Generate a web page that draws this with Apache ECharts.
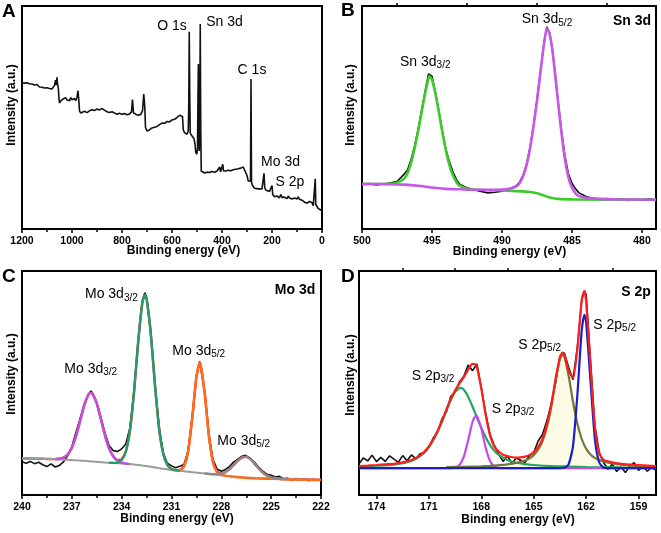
<!DOCTYPE html>
<html><head><meta charset="utf-8">
<script src="https://cdn.jsdelivr.net/npm/echarts@6/dist/echarts.min.js"></script>
<style>html,body{margin:0;padding:0;background:#fff}#c{width:661px;height:533px}</style>
</head><body><div id="c"></div>
<script>
// ---------- Panel A : survey spectrum [binding energy, intensity] ----------
const surveyData = [[1200,65.5],[1195,66.2],[1190,65.4],[1185,66.0],[1180,65.6],[1175,65.9],[1170,65.1],[1165,65.7],[1160,65.0],[1155,65.4],[1150,64.6],[1145,65.3],[1140,64.8],[1135,64.4],[1130,63.7],[1125,64.2],[1120,63.6],[1115,63.9],[1110,63.2],[1105,63.8],[1100,63.3],[1095,63.9],[1090,63.0],[1085,63.4],[1080,62.8],[1075,63.5],[1070,64.4],[1066,66.8],[1063,64.5],[1060,68.0],[1058,65.0],[1055,63.5],[1052,58.5],[1050,56.5],[1045,57.5],[1040,57.0],[1035,58.4],[1030,57.6],[1025,58.8],[1020,57.9],[1015,58.6],[1010,57.5],[1005,58.9],[1000,58.0],[995,57.2],[990,58.5],[985,57.6],[980,59.0],[976,62.0],[973,58.0],[970,53.0],[965,52.0],[960,52.4],[950,52.8],[940,52.2],[930,53.0],[920,53.5],[910,53.1],[900,53.8],[890,53.4],[880,54.0],[870,53.3],[860,52.6],[850,52.2],[840,52.6],[830,52.0],[820,51.5],[810,51.9],[800,51.4],[790,51.8],[780,51.2],[770,51.6],[762,52.5],[758,58.0],[754,52.0],[745,51.5],[735,51.0],[725,51.4],[718,53.0],[713,60.5],[709,55.0],[706,45.5],[700,44.0],[690,44.4],[680,45.3],[670,45.6],[660,46.0],[650,46.8],[640,47.5],[630,47.4],[620,48.2],[610,48.0],[600,48.9],[590,49.2],[580,50.0],[570,51.0],[562,51.3],[558,50.5],[555,44.5],[550,43.2],[545,43.8],[540,42.5],[535,44.0],[533,55.0],[531,88.5],[529,60.0],[527,43.0],[522,42.0],[517,41.2],[512,40.5],[508,38.0],[505,34.5],[501,33.5],[498,36.0],[496,60.0],[494.5,74.0],[493,50.0],[491,35.0],[489,45.0],[487,91.9],[485,45.0],[483,26.0],[480,25.2],[470,25.1],[460,25.5],[450,25.3],[440,25.8],[430,25.4],[420,26.0],[412,26.2],[409,27.8],[406,25.6],[400,26.2],[397,29.0],[394,26.0],[385,26.0],[375,26.3],[365,26.1],[355,26.6],[345,26.8],[335,27.0],[325,27.3],[315,27.8],[308,27.5],[300,24.0],[295,21.5],[290,21.0],[286,21.5],[284,67.3],[282,21.0],[278,19.5],[270,18.3],[262,18.8],[255,18.0],[248,18.6],[240,18.0],[235,18.5],[232,25.0],[229,18.5],[225,17.5],[218,17.8],[210,16.8],[204,16.5],[200,19.5],[197,15.5],[190,14.5],[180,14.8],[170,14.0],[165,15.5],[160,14.2],[150,14.3],[140,13.6],[135,14.8],[130,13.9],[120,13.5],[110,13.9],[100,13.5],[95,14.4],[90,13.3],[80,12.9],[70,12.0],[60,11.6],[50,12.4],[40,11.8],[35,10.5],[30,10.0],[27,22.5],[25,11.0],[20,10.5],[15,9.2],[10,9.5],[5,8.5],[0,8.2]];

// ---------- Panel B : Sn 3d ----------
const snTicks = [500,495,490,485,480];
const snMinor = [497.5,492.5,487.5,482.5];
const snRaw = [[500,20.0],[499.5,20.4],[499,19.7],[498.5,20.2],[498,20.6],[497.5,21.3],[497,24.5],[496.75,26.5],[496.5,31.0],[496.25,37.0],[496,44.5],[495.75,53.0],[495.5,61.5],[495.25,69.5],[495,68.5],[494.75,61.0],[494.5,52.5],[494.25,43.5],[494,35.5],[493.75,30.0],[493.5,25.5],[493.25,22.0],[493,20.0],[492.5,18.5],[492,17.6],[491.5,16.8],[491,16.2],[490.5,16.5],[490,17.0],[489.5,17.8],[489,19.3],[488.75,21.0],[488.5,24.0],[488.25,29.0],[488,36.5],[487.75,46.5],[487.5,58.0],[487.25,71.0],[487,83.5],[486.8,90.6],[486.6,88.0],[486.4,80.5],[486.2,69.5],[486,57.5],[485.75,44.0],[485.5,32.5],[485.25,24.5],[485,20.5],[484.75,18.0],[484.5,16.2],[484,14.6],[483.5,13.8],[483,13.2],[482.5,13.7],[482,13.0],[481.5,13.5],[481,12.8],[480.5,13.4],[480,13.0],[479.5,13.5],[479,12.9]];
const snGreen = [[500,20.2],[499,20.2],[498,20.3],[497.5,20.8],[497,22.5],[496.75,25.0],[496.5,29.5],[496.25,36.0],[496,43.5],[495.75,52.0],[495.5,60.5],[495.25,67.5],[495.2,68.6],[495,67.0],[494.75,60.5],[494.5,52.0],[494.25,43.0],[494,35.0],[493.75,28.5],[493.5,24.0],[493.25,21.0],[493,19.3],[492.5,18.2],[492,17.7],[491,17.4],[490,17.3],[489,17.0],[488,16.6],[487.5,16.0],[487,15.0],[486.5,14.0],[486,13.5],[485,13.3],[479,13.1]];
const snMagenta = [[500,20.2],[498,20.1],[497,19.9],[496,19.4],[495,18.6],[494,18.0],[493,17.8],[492,17.6],[491,17.6],[490,17.7],[489.5,18.0],[489,19.0],[488.75,20.5],[488.5,23.5],[488.25,28.5],[488,36.0],[487.75,46.0],[487.5,57.5],[487.25,70.5],[487,83.0],[486.8,90.0],[486.6,87.5],[486.4,80.0],[486.2,69.0],[486,57.0],[485.75,43.0],[485.5,31.0],[485.25,23.0],[485,18.5],[484.75,16.0],[484.5,14.8],[484,14.0],[483,13.5],[482,13.3],[479,13.1]];

// ---------- Panel C : Mo 3d ----------
const moE   = [240,239.75,239.5,239.25,239,238.75,238.5,238.25,238,237.75,237.5,237.25,237,236.75,236.5,236.25,236,235.85,235.75,235.5,235.25,235,234.75,234.5,234.25,234,233.75,233.5,233.25,233,232.75,232.6,232.5,232.25,232,231.75,231.5,231.25,231,230.75,230.5,230.25,230,229.75,229.5,229.3,229.25,229,228.75,228.5,228.25,228,227.75,227.5,227.25,227,226.75,226.55,226.5,226.25,226,225.75,225.5,225.25,225,224.75,224.5,224.25,224,223.75,223.5,223.25,223,222.75,222.5,222.25,222];
const moBg  = [16.3,16.3,16.3,16.25,16.2,16.15,16.1,16.05,16.0,15.9,15.8,15.7,15.6,15.5,15.4,15.25,15.1,15.0,14.95,14.8,14.65,14.5,14.4,14.3,14.2,14.1,13.95,13.8,13.6,13.4,13.15,13.0,12.9,12.6,12.3,12.0,11.7,11.45,11.2,11.0,10.8,10.6,10.4,10.2,10.0,9.85,9.8,9.6,9.4,9.2,9.0,8.8,8.6,8.4,8.25,8.1,7.95,7.82,7.8,7.7,7.6,7.55,7.5,7.45,7.4,7.3,7.2,7.15,7.1,7.05,7.0,6.95,6.9,6.9,6.85,6.8,6.8];
const moFit = [16.3,16.3,16.3,16.25,16.2,16.15,16.1,16.05,16.0,16.2,16.7,18.1,21.1,26.2,33.1,40.15,44.8,45.6,45.15,40.9,33.85,26.5,20.7,17.25,15.6,15.9,19.45,28.9,46.4,68.8,86.05,89.3,87.7,72.3,49.5,30.0,18.5,13.45,11.65,11.1,11.1,12.8,19.4,34.5,52.7,58.9,58.4,45.5,26.6,14.6,10.4,9.75,10.3,11.6,13.45,15.3,16.75,17.0,17.0,16.0,14.0,11.85,10.0,8.65,7.9,7.5,7.26,7.15,7.1,7.05,7.0,6.95,6.9,6.9,6.85,6.8,6.8];
const moRaw = [14.8,14.2,15.0,14.0,14.6,13.5,12.7,13.9,12.5,13.2,14.8,17.6,21.5,28.0,34.2,40.5,45.0,46.4,45.4,41.3,34.6,27.6,22.0,19.8,19.4,20.6,22.8,30.0,47.2,69.5,87.0,90.3,88.2,72.8,50.0,30.5,19.0,14.2,13.0,12.2,12.8,13.6,19.8,34.9,53.0,59.6,58.8,45.9,27.2,15.8,11.5,10.6,11.4,12.8,14.8,16.0,17.3,17.7,17.3,16.4,14.6,12.4,10.6,9.2,8.8,8.0,8.3,7.2,7.5,6.6,7.4,6.7,7.2,6.4,7.0,6.5,6.9];
const moP1 = [[238,16.0],[237.75,16.2],[237.5,16.7],[237.25,18.1],[237,21.1],[236.75,26.2],[236.5,33.1],[236.25,40.15],[236,44.8],[235.85,45.6],[235.75,45.15],[235.5,40.9],[235.25,33.85],[235,26.5],[234.75,20.7],[234.5,17.2],[234.25,15.3],[234,14.4],[233.75,14.05],[233.5,13.8]];
const moP2 = [[234.75,14.4],[234.5,14.35],[234.25,14.5],[234,15.6],[233.75,19.4],[233.5,28.9],[233.25,46.4],[233,68.8],[232.75,86.1],[232.6,89.3],[232.5,87.7],[232.25,72.3],[232,49.5],[231.75,30.0],[231.5,18.5],[231.25,13.45],[231,11.65],[230.75,11.1],[230.5,10.8]];
const moP3 = [[231,11.2],[230.75,11.0],[230.5,11.1],[230.25,12.8],[230,19.4],[229.75,34.5],[229.5,52.7],[229.3,58.9],[229.25,58.4],[229,45.5],[228.75,26.6],[228.5,14.5],[228.25,10.1],[228,8.95],[227.5,8.3],[227,7.9],[226,7.4],[225,7.2],[224,6.95],[223,6.75],[222,6.65]];
const moP4 = [[229,9.6],[228.5,9.3],[228.25,9.3],[228,9.6],[227.75,10.3],[227.5,11.6],[227.25,13.45],[227,15.3],[226.75,16.75],[226.55,17.0],[226.5,17.0],[226.25,16.0],[226,14.0],[225.75,11.85],[225.5,10.0],[225.25,8.65],[225,7.9],[224.75,7.5],[224.5,7.26],[224,7.1]];

// ---------- Panel D : S 2p ----------
const sTicks = [174,171,168,165,162,159];
const sMinor = [172.5,169.5,166.5,163.5,160.5];
const sRaw = [[175,14.0],[174.75,16.5],[174.5,15.2],[174.25,17.8],[174,14.9],[173.75,16.8],[173.5,15.0],[173.25,17.5],[173,16.0],[172.75,14.6],[172.5,17.6],[172.25,15.3],[172,17.9],[171.75,16.2],[171.5,18.4],[171.25,19.0],[171,21.2],[170.75,25.5],[170.5,28.0],[170.25,34.0],[170,37.0],[169.75,44.0],[169.5,46.0],[169.25,50.5],[169,53.0],[168.75,58.0],[168.5,55.5],[168.25,58.5],[168,48.0],[167.75,36.5],[167.5,27.0],[167.25,22.0],[167,18.0],[166.75,15.0],[166.5,17.5],[166.25,14.0],[166,16.5],[165.75,15.5],[165.5,14.5],[165.25,17.5],[165,19.0],[164.75,24.0],[164.5,27.0],[164.25,33.0],[164,40.5],[163.75,50.0],[163.5,62.0],[163.25,63.5],[163,57.0],[162.75,51.5],[162.5,66.0],[162.25,87.0],[162.1,91.0],[162,89.5],[161.75,60.0],[161.5,31.0],[161.25,19.0],[161,14.5],[160.75,11.5],[160.5,13.8],[160.25,10.5],[160,12.5],[159.75,10.0],[159.5,13.0],[159.25,14.5],[159,11.0],[158.75,12.8],[158.5,10.6],[158.25,12.2],[158,11.0]];
const sGreen = [[175,12.7],[174,13.1],[173,13.6],[172.5,14.2],[172,15.2],[171.5,17.3],[171,21.3],[170.75,24.5],[170.5,28.2],[170.25,32.7],[170,37.6],[169.75,42.3],[169.5,46.0],[169.2,47.8],[169,47.0],[168.75,43.9],[168.5,39.4],[168.25,34.6],[168,30.0],[167.75,25.8],[167.5,22.4],[167.25,19.7],[167,17.9],[166.5,15.6],[166,14.4],[165.5,13.8],[165,13.4],[164,12.9],[163,12.7],[162,12.5],[160,12.3],[158,12.2]];
const sMagenta = [[175,12.0],[169.75,12.0],[169.5,12.25],[169.25,13.4],[169,17.1],[168.75,24.5],[168.5,32.7],[168.3,35.5],[168.25,35.3],[168,29.7],[167.75,21.1],[167.5,15.2],[167.25,12.75],[167,12.1],[166.75,12.0],[158,12.0]];
const sOlive = [[170,12.5],[169,12.6],[168,12.8],[167.5,13.0],[167,13.3],[166.5,13.7],[166,14.3],[165.75,14.8],[165.5,15.4],[165.25,16.3],[165,17.8],[164.75,20.2],[164.5,23.9],[164.25,30.2],[164,39.2],[163.75,50.9],[163.5,60.7],[163.35,62.7],[163.25,61.8],[163,53.2],[162.75,41.6],[162.5,31.8],[162.25,25.0],[162,20.7],[161.75,18.1],[161.5,16.6],[161.25,15.6],[161,15.0],[160.5,14.1],[160,13.5],[159,12.95],[158,12.6]];
const sBlue = [[175,12.0],[163.5,12.0],[163.25,12.15],[163,13.7],[162.75,21.8],[162.5,44.8],[162.25,73.7],[162.1,80.4],[162,77.3],[161.75,51.0],[161.5,25.1],[161.25,14.5],[161,12.2],[160.75,12.0],[158,12.0]];
const sFit = [[175,12.95],[174.5,13.15],[174,13.4],[173.5,13.7],[173,13.95],[172.5,14.55],[172,15.6],[171.75,16.5],[171.5,17.7],[171.25,19.45],[171,21.75],[170.75,24.85],[170.5,28.7],[170.25,33.2],[170,38.1],[169.75,42.85],[169.5,46.6],[169.25,49.8],[169,52.6],[168.75,56.0],[168.5,58.5],[168.3,58.0],[168.25,57.0],[168,47.5],[167.75,35.8],[167.5,26.6],[167.25,21.6],[167,19.4],[166.75,18.0],[166.5,17.3],[166,16.7],[165.75,16.8],[165.5,17.15],[165.25,17.8],[165,19.2],[164.75,21.4],[164.5,25.0],[164.25,31.2],[164,40.1],[163.75,51.75],[163.5,61.5],[163.35,63.55],[163.25,62.7],[163,55.6],[162.75,52.1],[162.5,65.25],[162.25,87.3],[162.1,91.1],[162,86.6],[161.75,57.65],[161.5,30.25],[161.25,18.6],[161,15.7],[160.75,15.0],[160.5,14.55],[160,13.9],[159.5,13.6],[159,13.3],[158.5,13.15],[158,12.9]];

// ---------- build ----------
const FONT = '"Liberation Sans", Arial, Helvetica, sans-serif';
const zip = (xs, ys) => xs.map((x, i) => [x, ys[i]]);
const tickStyle = {color:'#000', width:1.5};

function xAx(grid, min, max, extra) {
  const base = {
    type:'value', gridIndex:grid, min:min, max:max, inverse:true,
    axisLine:{show:true, onZero:false, lineStyle:{color:'#000', width:2}},
    axisTick:{show:true, inside:false, length:4, lineStyle:tickStyle},
    splitLine:{show:false},
    axisLabel:{color:'#000', fontWeight:'bold', fontSize:10.5, fontFamily:FONT, margin:7,
      showMinLabel:true, showMaxLabel:true, formatter:function (v) { return String(v); }}
  };
  for (const k in extra) {
    if (typeof extra[k] === 'object' && !Array.isArray(extra[k]) && base[k]) base[k] = Object.assign({}, base[k], extra[k]);
    else base[k] = extra[k];
  }
  return base;
}
const minorOpt = {show:true, splitNumber:2, length:3, lineStyle:tickStyle};

const xAxis = [
  xAx(0, 0, 1200, {interval:200, minorTick:minorOpt}),
  xAx(1, 479, 500, {axisTick:{customValues:snTicks}, axisLabel:{customValues:snTicks}}),
  xAx(2, 222, 240, {interval:3, minorTick:minorOpt}),
  xAx(3, 158, 175, {axisTick:{customValues:sTicks}, axisLabel:{customValues:sTicks}}),
  xAx(1, 479, 500, {axisLine:{show:false}, axisLabel:{show:false}, axisTick:{customValues:snMinor, length:3}}),
  xAx(3, 158, 175, {axisLine:{show:false}, axisLabel:{show:false}, axisTick:{customValues:sMinor, length:3}})
];
const yAxis = [0,1,2,3].map(i => ({type:'value', gridIndex:i, min:0, max:100, show:false}));

const grid = [
  {left:22, top:6, width:300, height:223},
  {left:362, top:6, width:294, height:223},
  {left:22, top:271, width:299, height:224},
  {left:359, top:271, width:297, height:224}
].map(g => Object.assign({show:true, borderColor:'#000', borderWidth:2, backgroundColor:'transparent'}, g));

function ln(ax, data, color, width, extra) {
  return Object.assign({type:'line', xAxisIndex:ax, yAxisIndex:ax, data:data, symbol:'none', silent:true,
    lineStyle:{color:color, width:width}, animation:false}, extra || {});
}

const series = [
  ln(0, surveyData, '#111', 1.6),
  // B
  ln(1, snRaw, '#111', 1.6),
  ln(1, snGreen, '#3ccc2a', 2.6, {smooth:0.2}),
  ln(1, snMagenta, '#c757ea', 2.6, {smooth:0.2}),
  // C
  ln(2, zip(moE, moRaw), '#111', 1.6),
  ln(2, zip(moE, moFit), '#ff2a1a', 2.4, {smooth:0.2}),
  ln(2, zip(moE, moBg), '#9a9a9a', 2, {smooth:0.2}),
  ln(2, moP3, '#ff6c1c', 2.4, {smooth:0.2}),
  ln(2, moP1, '#c050e0', 2.4, {smooth:0.2}),
  ln(2, moP2, '#1f9e6e', 2.4, {smooth:0.2}),
  ln(2, moP4, '#8a8a8a', 2.4, {smooth:0.2}),
  // D
  ln(3, sOlive, 'rgba(0,0,0,0)', 0, {smooth:0.2, areaStyle:{color:'#fbfbe6', opacity:1, origin:12}}),
  ln(3, sRaw, '#111', 1.6),
  ln(3, sGreen, '#22a560', 2.2, {smooth:0.2}),
  ln(3, sMagenta, '#c648ee', 2.2, {smooth:0.2}),
  ln(3, sOlive, '#6f7a3a', 2.2, {smooth:0.2}),
  ln(3, sBlue, '#1c1cc8', 2.2, {smooth:0.2}),
  ln(3, sFit, '#ff1e1e', 2.2, {smooth:0.2})
];

function txt(x, y, text, size, weight, align, rot) {
  return {type:'text', x:x, y:y, rotation:rot || 0, z:100, silent:true,
    style:{text:text, fontSize:size, fontWeight:weight, fontFamily:FONT, fill:'#000',
      align:align, verticalAlign:'middle', textAlign:align, textVerticalAlign:'middle'}};
}
function subTxt(x, y, main, sub) {
  return {type:'text', x:x, y:y, z:100, silent:true,
    style:{text:'{m|' + main + '}{s|' + sub + '}', fontSize:14, fontFamily:FONT, fill:'#000',
      align:'left', verticalAlign:'middle', textAlign:'left', textVerticalAlign:'middle',
      rich:{m:{fontSize:14, fontFamily:FONT, fill:'#000'}, s:{fontSize:10, fontFamily:FONT, fill:'#000', padding:[7,0,0,0]}}}};
}

const graphic = [
  txt(2, 12, 'A', 19, 'bold', 'left'),
  txt(341, 11, 'B', 19, 'bold', 'left'),
  txt(2, 277, 'C', 19, 'bold', 'left'),
  txt(341, 277, 'D', 19, 'bold', 'left'),
  txt(12, 105, 'Intensity (a.u.)', 12, 'bold', 'center', Math.PI / 2),
  txt(351, 105, 'Intensity (a.u.)', 12, 'bold', 'center', Math.PI / 2),
  txt(12, 374, 'Intensity (a.u.)', 12, 'bold', 'center', Math.PI / 2),
  txt(351, 375, 'Intensity (a.u.)', 12, 'bold', 'center', Math.PI / 2),
  txt(183.5, 251, 'Binding energy (eV)', 12, 'bold', 'center'),
  txt(509.5, 252, 'Binding energy (eV)', 12, 'bold', 'center'),
  txt(177, 518.5, 'Binding energy (eV)', 12, 'bold', 'center'),
  txt(518, 520, 'Binding energy (eV)', 12, 'bold', 'center'),
  txt(172, 26, 'O 1s', 14, 'normal', 'center'),
  txt(224.5, 22.5, 'Sn 3d', 14, 'normal', 'center'),
  txt(252, 70, 'C 1s', 14, 'normal', 'center'),
  txt(280.5, 162, 'Mo 3d', 14, 'normal', 'center'),
  txt(290, 182, 'S 2p', 14, 'normal', 'center'),
  txt(632, 21, 'Sn 3d', 14, 'bold', 'center'),
  txt(295, 290, 'Mo 3d', 14, 'bold', 'center'),
  txt(636, 292, 'S 2p', 14, 'bold', 'center'),
  subTxt(400, 62, 'Sn 3d', '3/2'),
  subTxt(521.7, 19.5, 'Sn 3d', '5/2'),
  subTxt(85, 294.5, 'Mo 3d', '3/2'),
  subTxt(64.3, 369, 'Mo 3d', '3/2'),
  subTxt(172.3, 351, 'Mo 3d', '5/2'),
  subTxt(217.3, 441, 'Mo 3d', '5/2'),
  subTxt(411.7, 376, 'S 2p', '3/2'),
  subTxt(491.7, 409, 'S 2p', '3/2'),
  subTxt(518.3, 345, 'S 2p', '5/2'),
  subTxt(593.3, 325, 'S 2p', '5/2')
];

const chart = echarts.init(document.getElementById('c'), null, {renderer:'canvas', width:661, height:533});
chart.setOption({animation:false, backgroundColor:'#fff', grid:grid, xAxis:xAxis, yAxis:yAxis, series:series, graphic:graphic});
</script></body></html>
